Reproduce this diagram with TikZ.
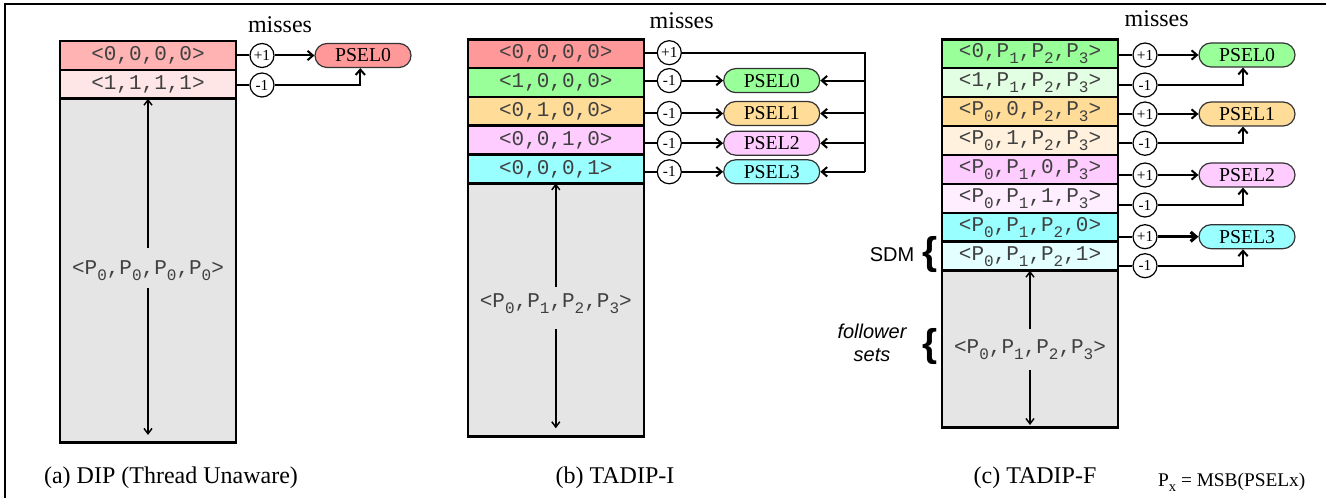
\documentclass[tikz,border=0pt]{standalone}
\usepackage{fontspec}
\setmainfont{Liberation Serif}
\setsansfont{Liberation Sans}
\newfontfamily\monof{Liberation Mono}
\usetikzlibrary{arrows.meta}
\definecolor{redA}{HTML}{FFB3B3}
\definecolor{redAl}{HTML}{FFE6E6}
\definecolor{redB}{HTML}{FF9999}
\definecolor{grnB}{HTML}{99FF99}
\definecolor{grnL}{HTML}{E3FFE3}
\definecolor{orgB}{HTML}{FFDD99}
\definecolor{orgL}{HTML}{FFF1DE}
\definecolor{pnkB}{HTML}{FFCCFF}
\definecolor{pnkL}{HTML}{FFEEFF}
\definecolor{cynB}{HTML}{99FFFF}
\definecolor{cynL}{HTML}{E3FFFF}
\definecolor{grayB}{HTML}{E5E5E5}
\newcommand\sbs[1]{\raisebox{-0.28em}{\fontsize{12}{12}\selectfont #1}}
\newcommand\Pn[1]{P\sbs{#1}}
\begin{document}
\begin{tikzpicture}[x=0.75pt,y=-0.75pt,
  cell/.style={draw, line width=1.9pt, minimum width=132pt, inner sep=0pt, outer sep=0pt,
    font=\monof\fontsize{15.75}{16}\selectfont, text=black!75},
  celltext/.style={inner sep=0pt, font=\monof\fontsize{15.75}{16}\selectfont, text=black!75},
  pm/.style={circle, draw, fill=white, line width=0.9pt, minimum size=18pt, inner sep=0pt,
    font=\fontsize{11.5}{11.5}\selectfont},
  pill/.style={draw=black!80, line width=0.9pt, rounded corners=9pt, minimum width=72pt,
    minimum height=18pt, inner sep=0pt, font=\fontsize{14.8}{14.8}\selectfont},
  conn/.style={line width=1.5pt},
  tip/.style={-{Straight Barb[length=4pt,width=7pt]}},
  intip/.style={line width=1.1pt, -{Straight Barb[length=4pt,width=6pt]}},
  lbl/.style={font=\fontsize{18}{18}\selectfont},
  brc/.style={font=\sffamily\bfseries\fontsize{29}{29}\selectfont, inner sep=0pt},
]
\useasboundingbox (0,0) rectangle (1326,498);
% frame
\draw[line width=1.1pt] (1326,4) -- (5,4) -- (5,498);

% ================= (a) =================
\node[lbl] (ma) at (280,25) {misses};
\node[cell, fill=redA, minimum height=21.75pt] (a1) at (148,55.5) {<0,0,0,0>};
\node[cell, fill=redAl, minimum height=21.5pt] (a2) at (148,84.35) {<1,1,1,1>};
\node[cell, fill=grayB, minimum height=257.7pt] (a3) at (148,270.5) {};
\node[celltext] (ta) at (148,271) {<\Pn0,\Pn0,\Pn0,\Pn0>};
\draw[intip] ([yshift=17pt]ta.center) -- (a3.north);
\draw[intip] ([yshift=-12.75pt]ta.center) -- ([yshift=5.5pt]a3.south);
\node[pm] (ca1) at (262,55.5) {+1};
\node[pm] (ca2) at (262,85) {-1};
\node[pill, fill=redB] (pa0) at (363,55.5) {PSEL0};
\draw[conn] (a1.east |- ca1) -- (ca1);
\draw[conn] (a2.east |- ca2) -- (ca2);
\draw[conn, tip] (ca1) -- (pa0.west);
\draw[conn, tip] (ca2) -| ([xshift=-2pt]pa0.south);
\node[lbl, anchor=base] (capa) at (171,483) {(a) DIP (Thread Unaware)};

% ================= (b) =================
\node[lbl] (mb) at (681.7,21) {misses};
\node[cell, fill=redB, minimum height=21.6pt] (b1) at (555.8,53.7) {<0,0,0,0>};
\node[cell, fill=grnB, minimum height=21.6pt] (b2) at (555.8,82.5) {<1,0,0,0>};
\node[cell, fill=orgB, minimum height=21.6pt] (b3) at (555.8,111.3) {<0,1,0,0>};
\node[cell, fill=pnkB, minimum height=21.6pt] (b4) at (555.8,140.1) {<0,0,1,0>};
\node[cell, fill=cynB, minimum height=21.6pt] (b5) at (555.8,168.9) {<0,0,0,1>};
\node[cell, fill=grayB, minimum height=190pt] (b6) at (555.8,310) {};
\node[celltext] (tb) at (555.8,303.3) {<\Pn0,\Pn1,\Pn2,\Pn3>};
\draw[intip] ([yshift=12pt]tb.center) -- (b6.north);
\draw[intip] ([yshift=-19.5pt]tb.center) -- ([yshift=6.3pt]b6.south);
\node[pm] (cb0) at (669.3,52.7) {+1};
\node[pm] (cb1) at (669.3,80.6) {-1};
\node[pm] (cb2) at (669.3,113.5) {-1};
\node[pm] (cb3) at (669.3,143.2) {-1};
\node[pm] (cb4) at (669.3,171.8) {-1};
\node[pill, fill=grnB] (pb0) at (771.7,80.6) {PSEL0};
\node[pill, fill=orgB] (pb1) at (771.7,113.5) {PSEL1};
\node[pill, fill=pnkB] (pb2) at (771.7,143.2) {PSEL2};
\node[pill, fill=cynB] (pb3) at (771.7,171.8) {PSEL3};
\coordinate (bv) at (865,52.7);
\draw[conn] (b1.east |- cb0) -- (cb0);
\draw[conn] (b2.east |- cb1) -- (cb1);
\draw[conn] (b3.east |- cb2) -- (cb2);
\draw[conn] (b4.east |- cb3) -- (cb3);
\draw[conn] (b5.east |- cb4) -- (cb4);
\draw[conn] (cb0) -- (bv) -- (bv |- pb3.east);
\draw[conn, tip] (cb1) -- (pb0.west);
\draw[conn, tip] (cb2) -- (pb1.west);
\draw[conn, tip] (cb3) -- (pb2.west);
\draw[conn, tip] (cb4) -- (pb3.west);
\draw[conn, tip] (bv |- pb0.east) -- (pb0.east);
\draw[conn, tip] (bv |- pb1.east) -- (pb1.east);
\draw[conn, tip] (bv |- pb2.east) -- (pb2.east);
\draw[conn, tip] (bv |- pb3.east) -- (pb3.east);
\node[lbl, anchor=base] (capb) at (615,483) {(b) TADIP-I};

% ================= (c) =================
\node[lbl] (mc) at (1156.7,18.5) {misses};
\node[cell, fill=grnB, minimum height=21.7pt] (c1) at (1030,53.75) {<0,\Pn1,\Pn2,\Pn3>};
\node[cell, fill=grnL, minimum height=21.7pt] (c2) at (1030,82.7) {<1,\Pn1,\Pn2,\Pn3>};
\node[cell, fill=orgB, minimum height=21.7pt] (c3) at (1030,111.6) {<\Pn0,0,\Pn2,\Pn3>};
\node[cell, fill=orgL, minimum height=21.7pt] (c4) at (1030,140.5) {<\Pn0,1,\Pn2,\Pn3>};
\node[cell, fill=pnkB, minimum height=21.7pt] (c5) at (1030,169.45) {<\Pn0,\Pn1,0,\Pn3>};
\node[cell, fill=pnkL, minimum height=21.7pt] (c6) at (1030,198.4) {<\Pn0,\Pn1,1,\Pn3>};
\node[cell, fill=cynB, minimum height=21.7pt] (c7) at (1030,227.3) {<\Pn0,\Pn1,\Pn2,0>};
\node[cell, fill=cynL, minimum height=21.7pt] (c8) at (1030,256.25) {<\Pn0,\Pn1,\Pn2,1>};
\node[cell, fill=grayB, minimum height=117.75pt] (c9) at (1030,349.2) {};
\node[celltext] (tc) at (1030,350) {<\Pn0,\Pn1,\Pn2,\Pn3>};
\draw[intip] ([yshift=15.5pt]tc.center) -- (c9.north);
\draw[intip] ([yshift=-15pt]tc.center) -- ([yshift=2pt]c9.south);
\node[pm] (cc1) at (1145,55) {+1};
\node[pm] (cc2) at (1145,85) {-1};
\node[pm] (cc3) at (1145,114) {+1};
\node[pm] (cc4) at (1145,143.3) {-1};
\node[pm] (cc5) at (1145,175) {+1};
\node[pm] (cc6) at (1145,205) {-1};
\node[pm] (cc7) at (1145,236.7) {+1};
\node[pm] (cc8) at (1145,265.7) {-1};
\node[pill, fill=grnB] (pc0) at (1247,55) {PSEL0};
\node[pill, fill=orgB] (pc1) at (1247,114) {PSEL1};
\node[pill, fill=pnkB] (pc2) at (1247,175) {PSEL2};
\node[pill, fill=cynB] (pc3) at (1247,236.7) {PSEL3};
\draw[conn] (c1.east |- cc1) -- (cc1);
\draw[conn] (c2.east |- cc2) -- (cc2);
\draw[conn] (c3.east |- cc3) -- (cc3);
\draw[conn] (c4.east |- cc4) -- (cc4);
\draw[conn] (c5.east |- cc5) -- (cc5);
\draw[conn] (c6.east |- cc6) -- (cc6);
\draw[conn] (c7.east |- cc7) -- (cc7);
\draw[conn] (c8.east |- cc8) -- (cc8);
\draw[conn, tip] (cc1) -- (pc0.west);
\draw[conn, tip] (cc3) -- (pc1.west);
\draw[conn, tip] (cc5) -- (pc2.west);
\draw[conn, tip, line width=2.4pt] (cc7) -- (pc3.west);
\draw[conn, tip] (cc2) -| ([xshift=-3pt]pc0.south);
\draw[conn, tip] (cc4) -| ([xshift=-3pt]pc1.south);
\draw[conn, tip] (cc6) -| ([xshift=-3pt]pc2.south);
\draw[conn, tip] (cc8) -| ([xshift=-3pt]pc3.south);
% side labels
\node[anchor=east, font=\sffamily\fontsize{15}{15}\selectfont] (sdm) at (919,255) {SDM};
\node[brc] (br1) at (930,255) {\{};
\node[align=center, font=\sffamily\itshape\fontsize{15}{17.5}\selectfont] (fol) at (872,343) {follower\\sets};
\node[brc] (br2) at (930,347) {\{};
\node[lbl, anchor=base] (capc) at (1035,483) {(c) TADIP-F};
\node[anchor=base east, font=\fontsize{14.5}{14.5}\selectfont] (px) at (1310,486)
  {P\raisebox{-0.3em}{\fontsize{11}{11}\selectfont x} = MSB(PSELx)};
\end{tikzpicture}
\end{document}
